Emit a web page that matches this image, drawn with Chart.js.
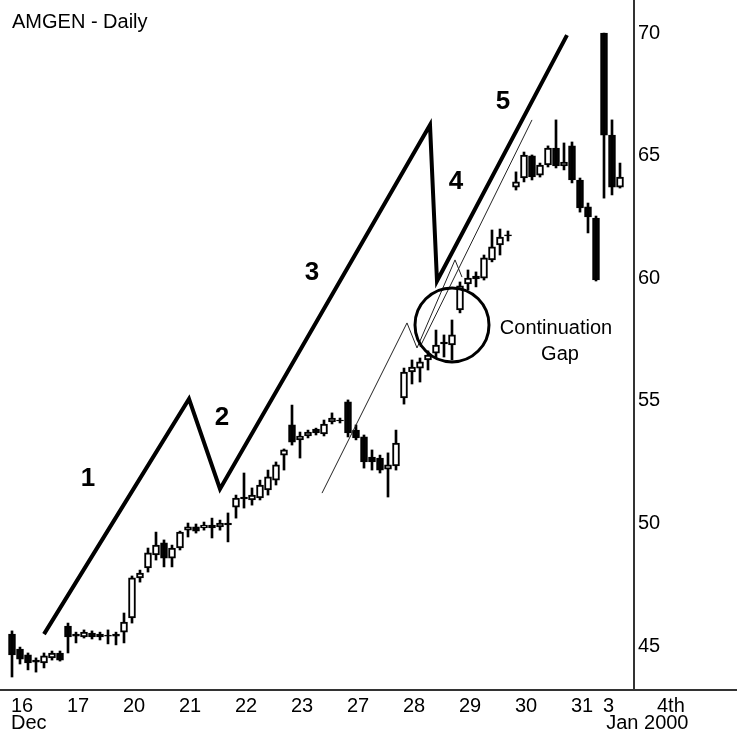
<!DOCTYPE html>
<html><head><meta charset="utf-8">
<script src="https://cdn.jsdelivr.net/npm/chart.js@4/dist/chart.umd.min.js"></script>
<style>html,body{margin:0;padding:0;background:#fff;}#wrap{width:737px;height:733px;}</style>
</head><body><div id="wrap"><canvas id="c" width="737" height="733"></canvas></div>
<script>
const title = 'AMGEN - Daily';
const dayLabels = ['16','17','20','21','22','23','27','28','29','30','31','3','4th'];
const dayStarts = [0,7,14,21,28,35,42,49,56,63,70,74,80.75];
const monthLabels = ['Dec','Jan 2000'];
const monthStarts = [0,74.4];
const priceTicks = [45,50,55,60,65,70];

const opens = [45.49,44.88,44.64,44.43,44.31,44.52,44.72,
 45.82,45.49,45.37,45.53,45.49,45.45,45.49,
 45.57,46.15,47.78,48.19,48.72,49.21,48.59,
 49.00,49.73,49.86,49.82,49.94,49.86,50.02,
 50.67,51.08,50.96,51.04,51.37,51.77,52.79,
 54.02,53.41,53.57,53.85,53.65,54.14,54.22,
 54.96,53.81,53.53,52.71,52.67,52.22,52.35,
 55.12,56.18,56.34,56.67,56.95,57.40,57.28,
 58.71,59.77,60.09,60.01,60.75,61.36,61.77,
 63.72,64.09,64.99,64.21,64.62,65.31,64.58,
 65.40,64.01,62.91,62.46,
 70.00,65.84,63.72];
const highs = [45.62,44.96,44.72,44.52,44.72,44.80,44.80,
 45.94,45.57,45.66,45.62,45.57,45.66,45.57,
 46.35,47.86,48.10,49.00,49.65,49.33,49.12,
 49.69,50.02,49.98,50.06,50.22,50.14,50.43,
 51.16,52.06,51.45,51.77,52.18,52.51,53.04,
 54.83,53.73,53.81,53.89,54.22,54.51,54.30,
 55.04,54.02,53.61,53.00,52.79,52.88,53.81,
 56.34,56.67,56.75,57.04,57.89,57.69,58.30,
 59.85,60.34,60.26,60.95,61.97,62.01,61.93,
 64.34,65.15,65.03,64.70,65.40,66.46,65.52,
 65.56,64.09,63.07,62.54,
 70.00,66.46,64.70];
const lows = [43.74,44.27,44.03,43.94,44.11,44.43,44.39,
 44.72,45.13,45.33,45.29,45.25,45.09,45.05,
 45.13,45.94,47.61,48.02,48.51,48.23,48.23,
 48.92,49.45,49.61,49.73,49.41,49.73,49.25,
 50.22,50.63,50.75,50.96,51.16,51.57,52.18,
 53.20,52.67,53.49,53.61,53.57,54.06,54.10,
 53.53,53.41,52.26,52.18,52.06,51.08,52.18,
 54.87,55.69,55.77,56.26,56.79,56.79,56.67,
 58.59,59.52,59.65,59.93,60.67,60.95,61.52,
 63.60,63.93,64.01,64.13,64.54,64.50,64.42,
 63.89,62.70,61.85,59.89,
 63.27,63.40,63.68];
const closes = [44.64,44.47,44.31,44.35,44.60,44.72,44.43,
 45.37,45.41,45.57,45.37,45.37,45.41,45.41,
 45.98,47.78,47.98,48.80,49.12,48.59,49.00,
 49.65,49.86,49.69,49.94,49.82,50.02,49.94,
 51.04,51.00,51.16,51.57,51.90,52.39,53.00,
 53.32,53.57,53.73,53.69,54.06,54.30,54.18,
 53.69,53.49,52.51,52.51,52.18,52.39,53.28,
 56.18,56.38,56.59,56.87,57.28,57.32,57.69,
 59.69,60.01,59.97,60.83,61.28,61.68,61.73,
 63.93,65.03,64.13,64.62,65.31,64.58,64.74,
 64.01,62.87,62.50,59.93,
 65.84,63.72,64.13];

const waveX = [4.0,22.125,26.0,52.25,53.125,69.375];
const waveY = [45.49,55.08,51.41,66.25,59.89,69.92];
const subWaveX = [38.75,49.375,50.625,55.375,56.25];
const subWaveY = [51.24,58.18,57.16,60.75,60.05];
const channelX = [51.0,65.0];
const channelY = [57.20,66.46];
const waveLabels = ['1','2','3','4','5'];
const waveLabelX = [9.5,26.25,37.5,55.5,61.375];
const waveLabelY = [51.81,54.30,60.22,63.93,67.19];
const gapCircle = {x:55, y:58.10};
const gapText = ['Continuation','Gap'];
const gapTextX = [68,68.5];
const gapTextY = [57.97,56.91];

const idx = opens.map((_, i) => i);
const wickData = idx.map(i => ({x:i, y:[lows[i], highs[i]]}));
const bodyData = idx.map(i => ({x:i, y:[opens[i], closes[i]]}));
const bodyFill = idx.map(i => closes[i] >= opens[i] ? '#ffffff' : '#000000');
const pts = (xs, ys) => xs.map((x, k) => ({x, y: ys[k]}));

const FONT = '"Liberation Sans", Arial, sans-serif';

const deco = {
  id: 'deco',
  afterDraw(chart) {
    const ctx = chart.ctx, xs = chart.scales.x, ys = chart.scales.y;
    ctx.save();
    ctx.beginPath();
    ctx.lineWidth = 3;
    ctx.strokeStyle = '#000';
    ctx.arc(xs.getPixelForValue(gapCircle.x), ys.getPixelForValue(gapCircle.y), 37, 0, Math.PI*2);
    ctx.stroke();
    ctx.fillStyle = '#333';
    ctx.fillRect(chart.chartArea.right - 1, 0, 2, chart.chartArea.bottom);
    ctx.fillRect(0, chart.chartArea.bottom - 1, chart.width, 2);
    ctx.fillStyle = '#000';
    ctx.textBaseline = 'middle';
    ctx.font = '20px ' + FONT;
    ctx.textAlign = 'left';
    ctx.fillText(title, 12, 22);
    priceTicks.forEach(v => ctx.fillText(String(v), chart.chartArea.right + 4, ys.getPixelForValue(v)));
    dayLabels.forEach((t, k) => ctx.fillText(t, xs.getPixelForValue(dayStarts[k]) - 1, chart.chartArea.bottom + 16));
    monthLabels.forEach((t, k) => ctx.fillText(t, xs.getPixelForValue(monthStarts[k]) - 1, chart.chartArea.bottom + 33));
    ctx.textAlign = 'center';
    gapText.forEach((t, k) => ctx.fillText(t, xs.getPixelForValue(gapTextX[k]), ys.getPixelForValue(gapTextY[k])));
    ctx.font = 'bold 26px ' + FONT;
    waveLabels.forEach((t, k) => ctx.fillText(t, xs.getPixelForValue(waveLabelX[k]), ys.getPixelForValue(waveLabelY[k])));
    ctx.restore();
  }
};

new Chart(document.getElementById('c'), {
  type: 'bar',
  data: {
    datasets: [
      {type:'line', data: pts(waveX, waveY), borderColor:'#000', borderWidth:4, pointRadius:0, tension:0, borderJoinStyle:'miter', order:0},
      {type:'line', data: pts(subWaveX, subWaveY), borderColor:'#222', borderWidth:1, pointRadius:0, tension:0, order:0},
      {type:'line', data: pts(channelX, channelY), borderColor:'#222', borderWidth:1, pointRadius:0, tension:0, order:0},
      {type:'bar', data: bodyData, backgroundColor: bodyFill, borderColor:'#000', borderWidth:2, borderSkipped:false, barThickness:7, grouped:false, order:1},
      {type:'bar', data: wickData, backgroundColor:'#000', borderWidth:0, barThickness:2, grouped:false, order:2}
    ]
  },
  options: {
    responsive: false,
    animation: false,
    events: [],
    layout: {padding: {left:0, top:0, right:103, bottom:43}},
    plugins: {legend:{display:false}, tooltip:{enabled:false}},
    scales: {
      x: {type:'linear', min:-1.5, max:77.75, display:false, offset:false},
      y: {type:'linear', min:43.21, max:71.35, display:false}
    }
  },
  plugins: [deco]
});
</script></body></html>
